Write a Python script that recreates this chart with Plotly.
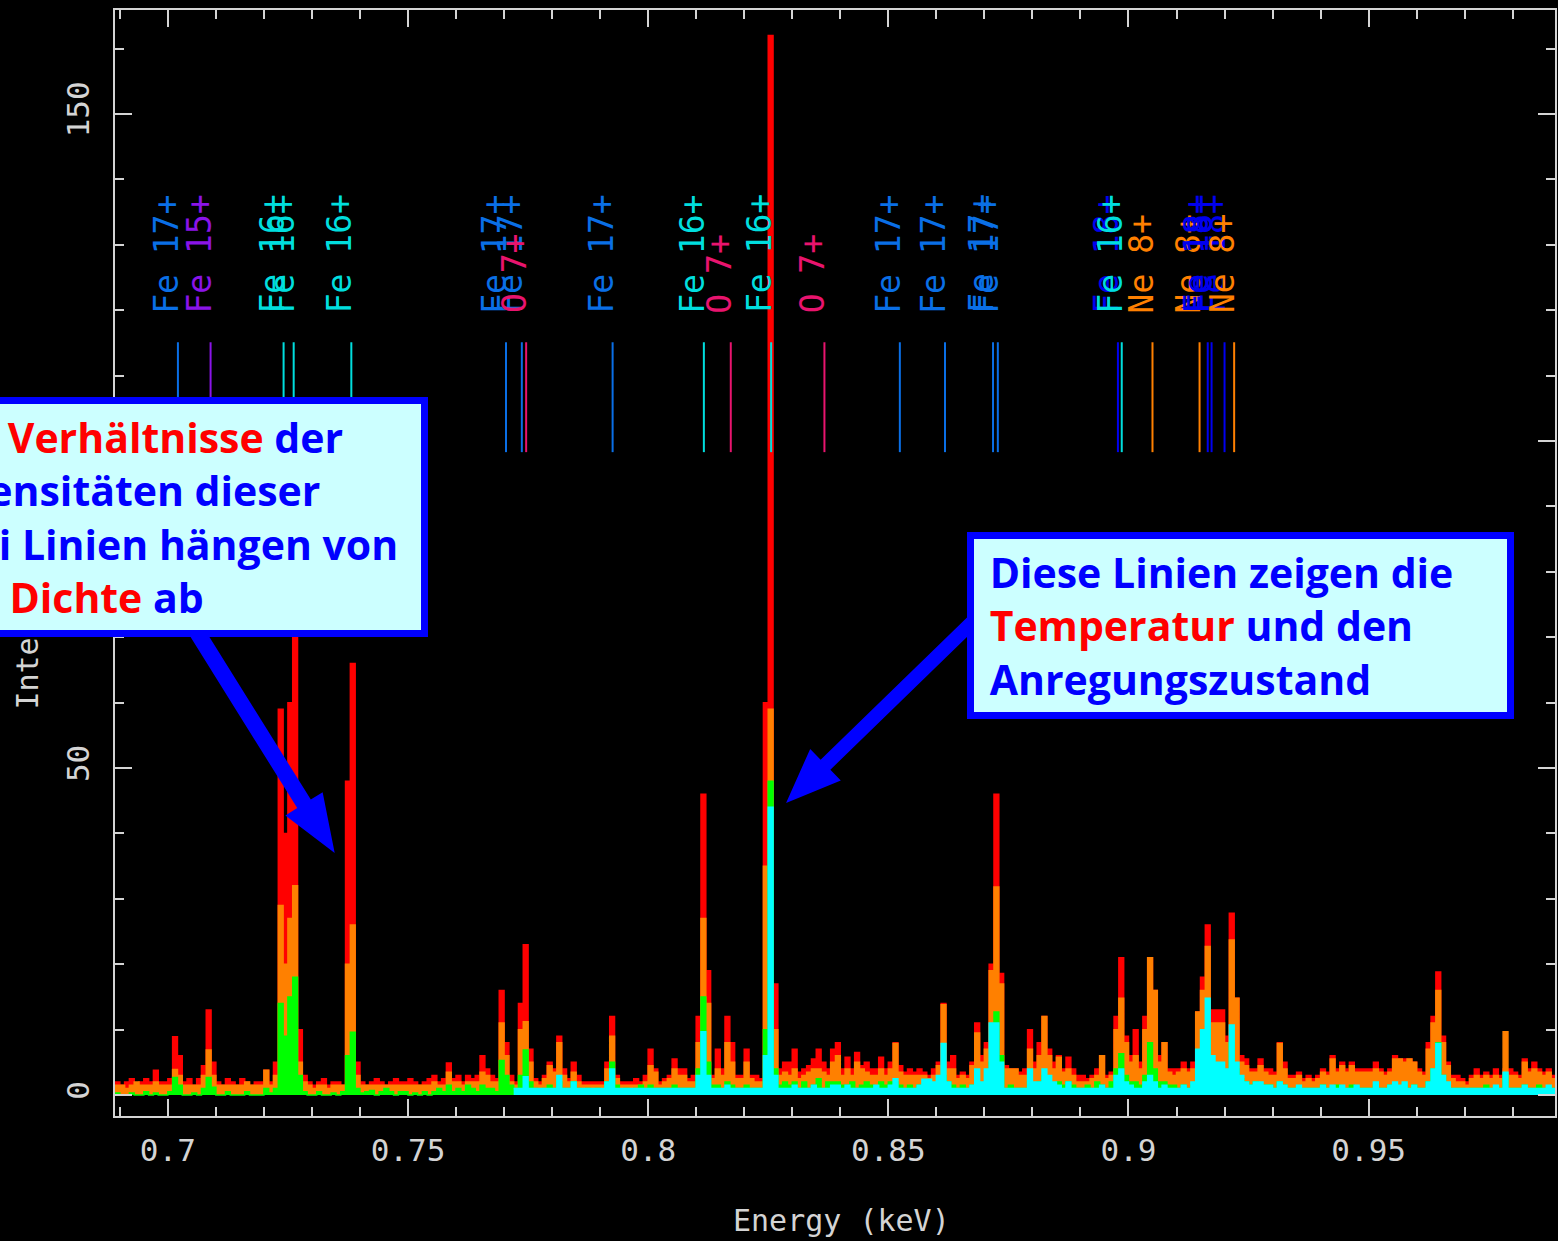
import numpy as np
import plotly.graph_objects as go

# ---------------- data ----------------
E_START = 0.689      # keV, left edge of first bin
BIN_W = 0.001        # keV

red_counts = [
    2, 1.5, 2, 2.5, 1.5, 2, 2.5, 2, 3.8, 2,
    2, 2.5, 8.9, 6, 2, 2.5, 1.5, 2.5, 4.5, 13,
    5, 2, 1.5, 2.5, 2, 1.5, 2.5, 2, 1.5, 2,
    2, 3.8, 2, 5, 59, 40, 60, 72, 10, 3,
    2, 1.5, 2, 2.5, 1.5, 2, 2, 1.5, 48, 66,
    5, 2, 1.5, 2, 2.5, 2, 1.5, 2, 2.5, 2,
    2, 2.5, 2, 1.5, 2, 2.5, 3, 2, 2.5, 4.9,
    2.5, 3, 2, 3, 2.5, 3, 6, 4, 3, 2.5,
    16, 8, 3, 2, 14, 23, 7, 2.5, 2, 3,
    5, 4, 9, 4, 2.5, 5, 3, 2, 2, 2,
    2, 2, 5, 12, 3, 2, 2, 2, 2.5, 2,
    3, 7, 4, 2, 2.5, 3, 5.5, 4, 4, 2.5,
    3, 12, 46, 19, 3, 7, 4, 12, 8, 3,
    3, 7, 3, 3, 2.5, 60, 162, 17, 4, 5,
    5, 7, 3.5, 4, 4.5, 5.5, 7, 5, 4, 7,
    8, 4, 5.8, 4, 6.5, 4.5, 5, 4, 4, 5.8,
    4, 5, 8, 4.5, 3.5, 4, 3.5, 4, 3.5, 3,
    4, 5, 14, 5, 6, 3, 3.5, 3, 5, 11,
    6, 8, 20, 46, 18.6, 4.5, 4, 4, 3.5, 4,
    10, 5, 8, 12, 7, 5, 6, 4, 5.8, 4,
    3, 3, 2.5, 3, 4, 6, 3, 3.5, 12, 21,
    9, 6, 10, 5, 12, 21, 16, 6, 8, 4,
    4, 4, 5, 4, 5, 12.7, 18, 26, 13, 13,
    13, 9, 27.8, 14.8, 6, 5.5, 4, 4, 5.5, 4,
    4, 3.5, 8, 5, 3, 3, 3.5, 2.5, 3, 2.5,
    3, 4, 3.5, 6, 4, 5, 4, 5, 4, 4,
    4, 4, 5, 4, 3.5, 4, 6, 5.5, 5.5, 5.5,
    5, 4, 3.5, 8, 12, 18.8, 9, 5, 3, 3,
    2.5, 2, 3, 4, 3, 3.5, 3, 4, 3, 4,
    4, 3.5, 3, 5.5, 4, 5, 4, 3.5, 4, 3,
    4,
]

orange_counts = [
    1.5, 1.5, 1, 1.5, 2, 1.5, 1.5, 1.5, 2, 1.5,
    1.5, 1.5, 3.9, 3, 1.5, 1.5, 1.5, 1.5, 3, 6.9,
    3, 1.5, 1.5, 1.5, 1.5, 1.5, 1.5, 2, 1.5, 1.5,
    1.5, 3.8, 1.5, 3, 29, 20, 27, 32, 5, 2,
    1.5, 1, 1.5, 1.5, 1, 1.5, 1.5, 1.5, 20, 26,
    3, 1.5, 1.5, 1.5, 1.5, 1.5, 1.5, 1.5, 1.5, 1.5,
    1.5, 1.5, 1.5, 1.5, 1.5, 1.5, 2, 1.5, 1.5, 3.5,
    2, 2, 1.5, 2, 2, 2, 3.5, 3, 2, 2,
    11, 6, 2, 1.5, 10, 11.2, 5, 2, 1.5, 2.5,
    4.5, 3.5, 8, 3, 2, 3.5, 2, 1.5, 1.5, 1.5,
    1.5, 1.5, 4, 9, 2.5, 1.5, 1.5, 1.5, 1.5, 1.5,
    2, 4.5, 3.5, 1.5, 2, 2.5, 4, 3, 3, 2,
    2, 8, 27, 14, 2.5, 4, 3, 8, 5, 2.5,
    2.5, 5, 2.5, 2, 2, 35, 59, 10, 3, 3.5,
    3, 4, 2.5, 3, 3.5, 4, 4, 3.5, 3, 5,
    6, 3, 4, 3, 5, 4, 3.5, 3, 3, 4,
    3, 4, 7.9, 3.5, 3, 3, 3, 3, 3, 2.5,
    3, 4.5, 13.8, 4, 4, 2.5, 3, 2.5, 4.5, 9.5,
    5, 7, 19, 31.8, 17, 4, 4, 4, 3, 3,
    7, 4, 6, 12, 6, 4, 5.8, 3.5, 4, 3,
    2, 2, 2, 2.5, 3, 6, 2.5, 3, 10, 14.8,
    8, 5, 6, 4, 10, 21, 16, 5, 8, 3.5,
    3, 3.5, 4, 3.5, 4, 12.7, 16, 22.7, 11, 11,
    11, 8, 23.7, 14.8, 5, 4.5, 3.5, 3.5, 4.5, 3.5,
    3, 3, 7.9, 4, 2.5, 2.5, 3, 2, 2.5, 2,
    2.5, 3.5, 3, 5.5, 3.5, 4.5, 3.5, 4.5, 3.5, 3.5,
    3.5, 3.5, 4, 3.5, 3, 3.5, 5.5, 5.5, 5, 5.5,
    5, 3.5, 3, 7, 11, 16, 8, 4.5, 2.5, 2,
    2, 1.5, 2.5, 3, 2.5, 3, 2.5, 3, 2.5, 9.7,
    3, 3, 2.5, 5, 3.5, 4, 3.5, 3, 3.5, 2.5,
    3,
]

green_counts = [
    0.3, 0, 0, 0.3, 0, 0, 0.5, 0, 0.3, 0,
    0, 0.5, 2.7, 1.5, 0, 0, 0.3, 0, 1, 2.7,
    1.2, 0, 0, 0.5, 0, 0, 0, 0.5, 0, 0,
    0, 1, 0.3, 1, 14, 9, 15, 18, 3, 0.5,
    0, 0, 0.5, 0, 0, 0.3, 0, 0.5, 6, 9.6,
    1, 0.3, 0.5, 0.7, 0, 0.5, 1, 0.5, 0, 0.5,
    0.5, 0, 0.3, 0, 0.5, 0, 0.5, 1, 0.5, 1.5,
    0.5, 1, 0.5, 1.5, 1, 0.5, 1.5, 1, 1, 0.5,
    5.3, 3, 1.5, 1, 3, 6.9, 2, 1, 0.5, 1,
    1.5, 1, 2, 1, 1, 2, 1, 0.5, 1, 0.5,
    1, 0.5, 2, 5, 1.5, 0.5, 1, 0.5, 1, 1.5,
    1, 1.5, 1, 1, 1, 1, 1.5, 1, 1, 1,
    1, 4, 15, 5, 1.5, 1.5, 1, 2, 1.5, 1,
    1, 1.5, 1, 1, 1, 10, 48, 4, 1.5, 2,
    1.5, 2, 1, 2, 1, 1.5, 2.5, 1, 2, 2,
    2, 1.5, 1.5, 2, 1, 1.5, 2, 1.5, 1, 2,
    1.5, 2, 2, 1.5, 1, 1.5, 1, 1.5, 1, 1,
    1, 1.5, 3, 2, 1.5, 1, 1.5, 1, 1.5, 2,
    1.5, 2, 5, 12.7, 6, 1, 1.5, 1, 1, 1,
    2, 1.5, 2, 3, 2, 1.5, 2, 1.5, 2, 1.5,
    1, 1, 1.5, 1, 2, 1.5, 1, 2, 4, 6.3,
    3, 2, 2, 1.5, 3, 8, 4, 2, 2, 1.5,
    1.5, 1, 1.5, 1, 1.5, 4, 6, 10, 5, 4,
    4, 3, 8, 4, 2.5, 2, 1.5, 2, 1.5, 1.5,
    1.5, 1, 2, 1.5, 1, 1, 1, 1, 1, 1,
    1, 1.5, 1, 1, 1.5, 1, 1, 1.5, 1, 1,
    1, 1, 1.5, 1, 1, 1.5, 1.5, 1, 1.5, 1,
    1.5, 1, 1, 2, 4, 8, 3, 1.5, 1, 1,
    1, 0.5, 1, 1, 1, 1.5, 1, 1, 1, 3,
    1, 1, 1, 1.5, 1, 1, 1.5, 1, 1, 1,
    1,
]

cyan_counts = [
    0, 0, 0, 0, 0, 0, 0, 0, 0, 0,
    0, 0, 0, 0, 0, 0, 0, 0, 0, 0,
    0, 0, 0, 0, 0, 0, 0, 0, 0, 0,
    0, 0, 0, 0, 0, 0, 0, 0, 0, 0,
    0, 0, 0, 0, 0, 0, 0, 0, 0, 0,
    0, 0, 0, 0, 0, 0, 0, 0, 0, 0,
    0, 0, 0, 0, 0, 0, 0, 0, 0, 0,
    0, 0, 0, 0, 0, 0, 0, 0, 0, 0,
    0, 0, 0, 1, 1, 2.8, 1, 1, 1, 1,
    1, 1, 3, 1, 1, 2, 1, 1, 1, 1,
    1, 1, 2, 4, 1, 1, 1, 1, 1, 1,
    1, 1, 1, 1, 1, 1, 1, 1, 1, 1,
    1, 3, 9.7, 3, 1, 1, 1, 1.5, 1, 1,
    1, 1, 1, 1, 1, 6, 44, 3, 1, 1,
    1, 1.5, 1, 1, 1, 1.5, 1, 1, 1, 1.5,
    1.5, 1, 1.5, 1, 1, 1, 1, 1, 1.5, 1,
    1, 1.5, 2.5, 1, 1, 1, 1, 1.5, 2.4, 2.4,
    2, 3, 7.9, 2, 1, 1, 1, 1, 1.5, 4,
    2, 4, 11, 11, 5, 1, 1, 1, 1, 1,
    4, 2, 2, 4, 3, 2, 1.5, 1, 2, 1,
    1, 1, 1, 1, 1, 1.5, 1, 1, 3, 4,
    2, 1.5, 1, 1, 2, 3, 2, 1, 1.5, 1,
    1, 1, 1.5, 1, 2, 7, 10, 14.8, 6, 5,
    5, 4, 10.7, 5, 3, 2, 1.5, 2, 2, 1.5,
    1.5, 1, 2, 1.5, 1, 1, 1.5, 1, 1, 1,
    1, 1.5, 1, 1.5, 1, 1.5, 1, 1, 1.5, 1,
    1, 1, 2, 1, 1, 1.5, 2, 1.5, 2, 1,
    1.5, 1, 1, 2, 4, 7.9, 3, 2, 1, 1,
    1, 1, 1, 1, 1, 1, 1, 1.5, 1, 3.5,
    1, 1, 1, 1.5, 1, 1, 1, 1, 1.5, 1,
    1,
]

line_energies = [0.7021, 0.7089, 0.7241, 0.7262, 0.7382, 0.7704, 0.7737, 0.7746,
                 0.7926, 0.8116, 0.8172, 0.8256, 0.8367, 0.8524, 0.8618, 0.8718,
                 0.8728, 0.8978, 0.8986, 0.9050, 0.9148, 0.9165, 0.9173, 0.9200,
                 0.9220]
line_ions = ["Fe 17+", "Fe 15+", "Fe 16+", "Fe 16+", "Fe 16+", "Fe 17+", "Fe 17+", "O 7+",
             "Fe 17+", "Fe 16+", "O 7+", "Fe 16+", "O 7+", "Fe 17+", "Fe 17+", "Fe 17+",
             "Fe 17+", "Fe 18+", "Fe 16+", "Ne 8+", "Ne 8+", "Fe 18+", "Fe 18+", "Fe 18+",
             "Ne 8+"]
ion_colors = {"Fe 15+": "#8a14e8", "Fe 16+": "#00dede", "Fe 17+": "#0a6fe6",
              "Fe 18+": "#0000f0", "O 7+": "#e8146e", "Ne 8+": "#ff8000"}

x_tick_vals = [0.7, 0.75, 0.8, 0.85, 0.9, 0.95]
x_tick_text = ["0.7", "0.75", "0.8", "0.85", "0.9", "0.95"]
y_tick_vals = [0, 50, 100, 150]
y_tick_text = ["0", "50", "100", "150"]

# ---------------- layout geometry ----------------
W, H = 1558, 1241
L, R, T, B = 115, 1557, 10, 1116
X_RANGE = [0.689, 0.9888]
Y_RANGE = [-3.2, 165.9]
MARK_Y0, MARK_Y1 = 98.3, 115.1
LABEL_Y = 119.2
AXIS_GREY = "#d4d4d4"
MONO = "DejaVu Sans Mono"


def px2paper(px, py):
    return (px - L) / (R - L), (B - py) / (B - T)


def step_xy(vals, mask_zero=False):
    edges = E_START + BIN_W * np.arange(len(vals) + 1)
    y = np.array(list(vals) + [vals[-1]], dtype=float)
    if mask_zero:
        y = np.where(y == 0, np.nan, y)
    return edges, y


fig = go.Figure()

for vals, col, mask in [(red_counts, "#ff0000", False), (orange_counts, "#ff8000", False),
                        (green_counts, "#00ff00", False), (cyan_counts, "#00ffff", True)]:
    x, y = step_xy(vals, mask)
    fig.add_trace(go.Scatter(x=x, y=y, mode="lines",
                             line=dict(color=col, width=1.5, shape="hv"),
                             fill="tozeroy", fillcolor=col,
                             hoverinfo="skip", showlegend=False))

# line marker ticks
for ion, col in ion_colors.items():
    xs, ys = [], []
    for e, i in zip(line_energies, line_ions):
        if i == ion:
            xs += [e, e, None]
            ys += [MARK_Y0, MARK_Y1, None]
    fig.add_trace(go.Scatter(x=xs, y=ys, mode="lines", line=dict(color=col, width=2),
                             hoverinfo="skip", showlegend=False))

annotations = []
for e, ion in zip(line_energies, line_ions):
    annotations.append(dict(x=e, y=LABEL_Y, xref="x", yref="y", text=ion, textangle=-90,
                            showarrow=False, xanchor="center", yanchor="bottom", xshift=-11,
                            font=dict(family=MONO, size=33, color=ion_colors[ion])))

# axis titles
tx, ty = px2paper(843, 1220)
annotations.append(dict(x=tx, y=ty, xref="paper", yref="paper", text="Energy (keV)",
                        showarrow=False, xanchor="center", yanchor="middle",
                        font=dict(family=MONO, size=30, color=AXIS_GREY)))
tx, ty = px2paper(27, 712)
annotations.append(dict(x=tx, y=ty, xref="paper", yref="paper", text="Intensity",
                        textangle=-90, showarrow=False, xanchor="center", yanchor="bottom",
                        font=dict(family=MONO, size=30, color=AXIS_GREY)))

BOX_FONT = dict(family="Open Sans", size=41, color="#0000ff", weight="bold")
RED = '<span style="color:#ff0000">{}</span>'

text1 = ("Die " + RED.format("Verhältnisse") + " der<br>Intensitäten dieser<br>"
         "drei Linien hängen von<br>der " + RED.format("Dichte") + " ab")
bx, by = px2paper(-82, 397)
annotations.append(dict(x=bx, y=by, xref="paper", yref="paper", text=text1,
                        showarrow=False, xanchor="left", yanchor="top", align="left",
                        width=486, bgcolor="#ccffff", bordercolor="#0000ff",
                        borderwidth=7, borderpad=5, font=BOX_FONT))

text2 = ("\u00a0Diese Linien zeigen die<br>\u00a0" + RED.format("Temperatur") +
         " und den<br>\u00a0Anregungszustand")
bx, by = px2paper(968, 532)
annotations.append(dict(x=bx, y=by, xref="paper", yref="paper", text=text2,
                        showarrow=False, xanchor="left", yanchor="top", align="left",
                        width=523, bgcolor="#ccffff", bordercolor="#0000ff",
                        borderwidth=7, borderpad=5, font=BOX_FONT))


def arrow_path(tail, tip, shaft_w, head_len, head_hw):
    t = np.array(tail, float)
    p = np.array(tip, float)
    u = (p - t) / np.linalg.norm(p - t)
    n = np.array([-u[1], u[0]])
    hb = p - u * head_len
    pts = [t + n * shaft_w / 2, hb + n * shaft_w / 2, hb + n * head_hw, p,
           hb - n * head_hw, hb - n * shaft_w / 2, t - n * shaft_w / 2]
    coords = [px2paper(*q) for q in pts]
    return "M " + " L ".join(f"{a:.5f},{b:.5f}" for a, b in coords) + " Z"


shapes = [
    dict(type="path", xref="paper", yref="paper", layer="above",
         path=arrow_path((192, 624), (335, 853), 16, 58, 22),
         fillcolor="#0000ff", line=dict(width=0)),
    dict(type="path", xref="paper", yref="paper", layer="above",
         path=arrow_path((988, 608), (787, 803), 14, 55, 22),
         fillcolor="#0000ff", line=dict(width=0)),
]

axis_common = dict(showgrid=False, zeroline=False, showline=True, linecolor=AXIS_GREY,
                   linewidth=2, mirror="ticks", ticks="inside", ticklen=17, tickwidth=2,
                   tickcolor=AXIS_GREY,
                   tickfont=dict(family=MONO, size=31, color=AXIS_GREY))

fig.update_layout(
    width=W, height=H,
    margin=dict(l=L, r=W - R, t=T, b=H - B),
    paper_bgcolor="black", plot_bgcolor="black",
    showlegend=False,
    xaxis=dict(range=X_RANGE, tickvals=x_tick_vals, ticktext=x_tick_text,
               minor=dict(dtick=0.01, tick0=0.7, ticks="inside", ticklen=9, tickwidth=2,
                          tickcolor=AXIS_GREY, showgrid=False),
               ticklabelstandoff=6, **axis_common),
    yaxis=dict(range=Y_RANGE, tickvals=y_tick_vals, ticktext=y_tick_text, tickangle=-90,
               minor=dict(dtick=10, tick0=0, ticks="inside", ticklen=9, tickwidth=2,
                          tickcolor=AXIS_GREY, showgrid=False),
               ticklabelstandoff=12, **axis_common),
    annotations=annotations,
    shapes=shapes,
)

fig.write_html("out.html")
